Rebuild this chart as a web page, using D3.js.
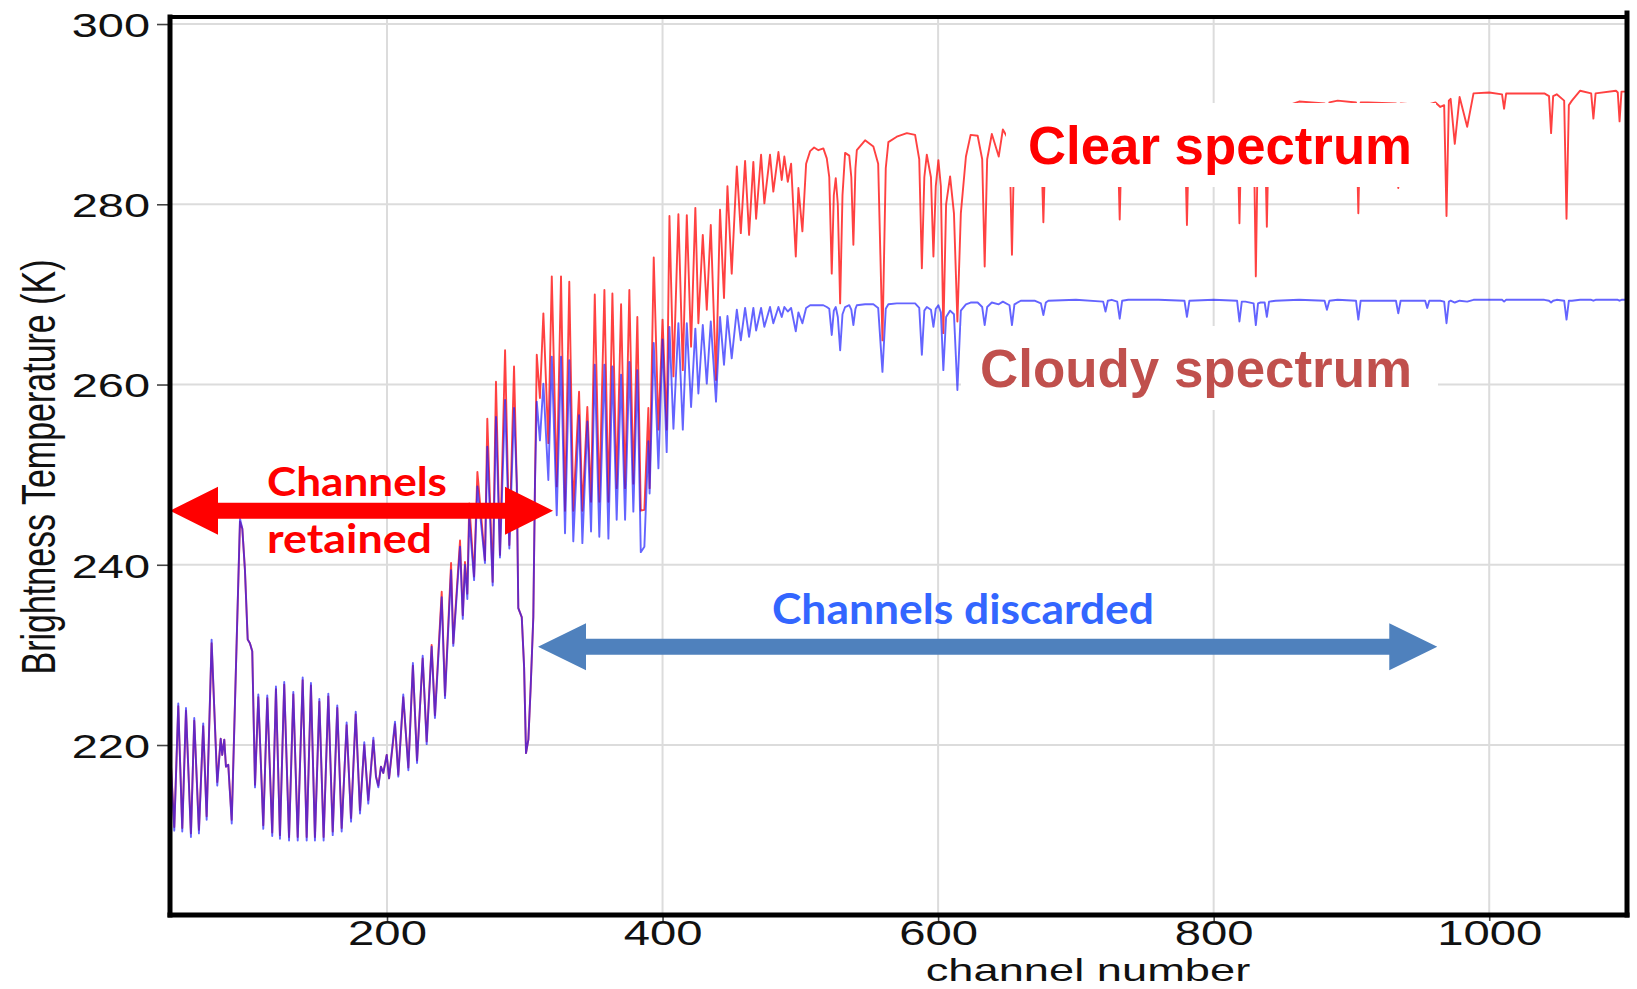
<!DOCTYPE html>
<html>
<head>
<meta charset="utf-8">
<script src="https://cdn.jsdelivr.net/npm/d3@7"></script>
<style>
  html, body { margin: 0; padding: 0; background: #ffffff; }
  svg { display: block; }
</style>
</head>
<body>
<svg id="chart" width="1637" height="989"></svg>
<script>
// Brightness temperature spectra: [channel number, Tb (K)]
const clearSpectrum = [
  [42.5,219.8],[45.6,210.9],[48.5,224.3],[51.4,210.8],[54.1,223.8],[57.7,210.2],[60.1,222.7],[63.5,210.6],[66.6,222.1],[69.1,212.1],
  [72.7,231.3],[76.8,215.9],[79.3,220.7],[80.4,218.9],[81.9,220.6],[83.1,217.6],[84.8,217.8],[85.3,216.5],[87.3,211.7],[93.3,244.8],
  [95.0,244.0],[96.9,239.4],[98.9,231.7],[100.5,231.3],[102.2,230.4],[104.2,215.6],[106.6,225.3],[110.2,211.1],[113.1,225.2],[116.7,210.3],
  [119.4,226.2],[122.3,210.0],[125.4,226.7],[128.9,209.8],[132.0,225.6],[135.2,209.8],[138.8,227.2],[141.7,209.8],[144.8,226.6],[147.7,209.8],
  [150.9,224.8],[154.0,209.8],[157.4,225.4],[160.6,210.4],[163.9,224.1],[167.1,210.8],[170.7,222.2],[173.9,211.9],[177.3,223.4],[180.4,212.8],
  [183.5,220.0],[186.4,213.9],[190.1,220.5],[192.0,216.5],[193.7,215.5],[195.6,217.6],[197.3,216.9],[199.8,218.9],[201.5,216.3],[205.8,222.3],
  [208.2,216.7],[211.8,225.3],[215.5,217.5],[218.8,228.8],[221.8,218.3],[225.9,229.6],[228.8,220.4],[232.4,231.1],[234.8,223.3],[239.7,237.0],
  [242.1,225.5],[246.5,240.2],[248.1,231.3],[253.0,242.7],[255.0,234.4],[256.6,240.3],[258.3,236.8],[259.7,246.8],[263.2,238.7],[265.6,250.3],
  [271.1,240.5],[272.8,256.2],[276.7,238.1],[279.1,260.3],[282.0,241.1],[285.7,263.8],[288.8,242.2],[292.2,262.0],[294.2,249.0],[295.3,235.2],
  [297.8,234.2],[299.5,228.7],[300.9,219.1],[302.6,220.6],[304.3,226.5],[306.2,234.2],[307.4,249.0],[308.7,263.3],[311.0,258.5],[313.5,267.9],
  [317.1,253.5],[319.6,272.0],[323.2,248.7],[326.3,272.0],[329.2,246.0],[332.3,271.4],[335.2,246.0],[339.4,259.2],[341.8,246.0],[345.4,257.5],
  [348.1,247.0],[350.8,270.0],[354.1,247.0],[357.8,270.5],[360.7,247.0],[363.6,270.1],[366.7,248.5],[369.9,268.9],[372.8,248.5],[375.9,270.5],
  [378.8,249.0],[381.7,267.5],[384.2,246.0],[386.8,246.1],[389.7,257.4],[390.6,248.5],[393.6,274.1],[397.0,255.0],[400.0,267.2],[403.0,255.0],
  [405.0,278.7],[407.9,260.9],[411.5,278.9],[414.7,261.6],[417.6,278.8],[420.7,264.2],[423.8,279.6],[426.0,266.8],[429.2,276.6],[432.1,268.3],
  [435.0,277.7],[438.8,260.5],[441.7,279.4],[444.6,269.6],[447.1,282.0],[450.2,272.3],[453.9,284.2],[456.8,276.8],[459.9,284.8],[462.8,276.6],
  [465.9,284.7],[467.9,278.4],[471.5,285.5],[473.9,280.1],[478.0,285.5],[480.4,281.4],[484.1,285.8],[486.5,282.7],[488.4,285.3],[490.9,282.5],
  [493.3,284.5],[496.7,274.2],[498.6,281.8],[501.5,277.0],[504.2,284.5],[507.1,285.9],[510.0,286.3],[513.1,286.0],[516.7,286.2],[519.2,285.1],
  [521.0,283.0],[522.8,272.3],[524.3,281.0],[525.7,282.9],[527.2,280.0],[528.9,269.0],[530.6,281.0],[532.5,285.7],[535.5,285.4],[537.0,283.0],
  [538.5,275.5],[540.0,284.0],[541.0,286.0],[547.0,287.1],[553.0,286.4],[556.5,284.5],[559.6,264.9],[562.0,284.0],[563.9,286.9],[570.0,287.5],
  [577.3,287.9],[583.3,287.7],[586.3,285.0],[588.2,272.9],[590.0,283.0],[591.8,285.5],[594.8,283.0],[596.6,274.2],[598.3,282.0],[600.2,284.9],
  [602.0,282.0],[603.8,265.7],[605.8,280.0],[608.7,283.1],[611.5,279.0],[614.0,267.0],[616.5,279.0],[620.2,285.3],[623.6,287.7],[628.7,287.6],
  [632.0,285.0],[633.8,273.1],[635.6,285.0],[639.0,287.8],[644.0,285.3],[647.0,288.3],[651.8,287.0],[653.6,274.4],[655.4,287.5],[660.0,289.0],
  [670.0,289.2],[674.6,288.0],[676.4,278.0],[678.2,288.2],[680.0,289.4],[700.0,289.8],[719.8,289.0],[721.5,287.0],[723.2,289.5],[726.0,290.0],
  [730.0,289.5],[731.8,278.3],[733.6,289.6],[738.0,290.2],[760.0,290.4],[778.8,290.0],[780.6,277.7],[782.4,290.0],[800.0,290.6],[817.0,290.2],
  [818.7,277.9],[820.4,290.0],[823.0,290.0],[829.0,289.0],[830.6,272.0],[832.2,288.5],[834.0,289.5],[837.0,289.5],[838.6,277.5],[840.2,289.5],
  [845.0,290.5],[862.0,291.4],[880.5,291.2],[882.2,289.0],[884.0,291.3],[890.0,291.5],[903.3,291.3],[905.0,279.0],[906.7,291.3],[912.0,291.3],
  [932.3,291.2],[934.0,281.8],[935.7,291.2],[953.5,291.0],[955.0,291.0],[956.5,291.1],[961.0,291.3],[964.5,290.8],[967.3,291.0],[969.0,278.7],
  [970.7,291.5],[972.0,291.7],[975.0,286.7],[978.5,291.9],[984.0,288.6],[988.6,292.3],[1000.0,292.4],[1009.3,292.2],[1010.8,290.6],[1012.3,292.3],
  [1040.0,292.3],[1043.4,292.0],[1044.9,287.9],[1046.4,292.0],[1049.0,292.2],[1054.4,291.5],[1056.1,278.4],[1057.8,291.0],[1060.0,291.5],[1066.0,292.6],
  [1074.0,292.3],[1075.6,289.5],[1077.2,292.3],[1092.0,292.6],[1093.3,292.4],[1094.6,289.2],[1096.0,292.5],[1100.0,292.5]
];

const cloudySpectrum = [
  [42.5,219.8],[45.6,210.5],[48.5,224.6],[51.4,210.4],[54.1,224.1],[57.7,209.8],[60.1,223.0],[63.5,210.2],[66.6,222.4],[69.1,211.7],
  [72.7,231.7],[76.8,215.5],[79.3,220.7],[80.4,218.9],[81.9,220.6],[83.1,217.6],[84.8,217.8],[85.3,216.5],[87.3,211.3],[93.3,245.1],
  [95.0,244.0],[96.9,239.4],[98.9,231.7],[100.5,231.3],[102.2,230.4],[104.2,215.3],[106.6,225.6],[110.2,210.7],[113.1,225.5],[116.7,209.9],
  [119.4,226.5],[122.3,209.6],[125.4,227.0],[128.9,209.4],[132.0,225.9],[135.2,209.4],[138.8,227.5],[141.7,209.4],[144.8,226.9],[147.7,209.4],
  [150.9,225.1],[154.0,209.4],[157.4,225.7],[160.6,210.0],[163.9,224.4],[167.1,210.4],[170.7,222.5],[173.9,211.5],[177.3,223.7],[180.4,212.4],
  [183.5,220.3],[186.4,213.5],[190.1,220.8],[192.0,216.5],[193.7,215.3],[195.6,217.6],[197.3,216.9],[199.8,218.9],[201.5,216.3],[205.8,222.6],
  [208.2,216.5],[211.8,225.6],[215.5,217.2],[218.8,229.1],[221.8,218.0],[225.9,229.9],[228.8,220.1],[232.4,230.9],[234.8,223.0],[239.7,236.4],
  [242.1,225.2],[246.5,239.4],[248.1,231.0],[253.0,242.0],[255.0,234.0],[256.6,240.0],[258.3,236.2],[259.7,245.3],[263.2,238.3],[265.6,248.7],
  [271.1,240.2],[272.8,253.1],[276.7,237.7],[279.1,256.4],[282.0,240.8],[285.7,258.3],[288.8,241.8],[292.2,257.4],[294.2,249.0],[295.3,235.2],
  [297.8,234.2],[299.5,228.7],[300.9,219.1],[302.6,220.6],[304.3,226.5],[306.2,234.2],[307.4,249.0],[308.7,258.1],[311.0,253.8],[313.5,260.1],
  [317.1,249.4],[319.6,263.1],[323.2,245.5],[326.3,263.1],[329.2,243.5],[332.3,262.7],[335.2,242.6],[339.4,256.6],[341.8,242.4],[345.4,255.9],
  [348.1,243.7],[350.8,262.2],[354.1,243.1],[357.8,262.2],[360.7,242.9],[363.6,262.0],[366.7,245.0],[369.9,261.1],[372.8,245.0],[375.9,262.5],
  [378.8,245.9],[381.7,261.6],[384.2,241.4],[386.8,242.0],[389.7,253.7],[390.6,247.9],[393.6,264.6],[397.0,250.7],[400.0,265.0],[403.0,252.5],
  [405.0,266.4],[407.9,255.1],[411.5,266.8],[414.7,255.0],[417.6,266.8],[420.7,257.5],[423.8,266.2],[426.0,259.0],[429.2,266.6],[432.1,260.1],
  [435.0,267.0],[438.8,258.1],[441.7,267.5],[444.6,262.2],[447.1,267.6],[450.2,262.9],[453.9,268.3],[456.8,264.9],[459.9,268.5],[462.8,265.3],
  [465.9,268.5],[467.9,266.0],[471.5,268.5],[473.9,266.4],[478.0,268.6],[480.4,266.8],[484.1,268.6],[486.5,267.5],[488.4,268.6],[490.9,268.1],
  [493.3,268.5],[496.7,265.9],[498.6,268.0],[501.5,266.8],[504.2,268.5],[507.1,268.8],[510.0,268.8],[513.1,268.8],[516.7,268.8],[519.2,268.6],
  [521.0,268.4],[522.8,265.5],[524.3,268.2],[525.7,268.6],[527.2,267.5],[528.9,263.8],[530.6,267.8],[532.5,268.6],[535.5,268.8],[537.0,268.3],
  [538.5,266.6],[540.0,268.4],[541.0,268.8],[547.0,268.9],[553.0,268.9],[556.5,268.5],[559.6,261.4],[562.0,268.4],[563.9,268.9],[570.0,269.0],
  [577.3,269.0],[583.3,269.0],[586.3,268.5],[588.2,263.3],[590.0,268.2],[591.8,268.6],[594.8,268.3],[596.6,266.4],[598.3,268.4],[600.2,268.8],
  [602.0,268.0],[603.8,261.6],[605.8,267.5],[608.7,268.2],[611.5,267.8],[614.0,259.4],[616.5,268.2],[620.2,268.9],[623.6,269.1],[628.7,269.1],
  [632.0,268.6],[633.8,266.6],[635.6,268.6],[639.0,269.1],[644.0,268.9],[647.0,269.2],[651.8,268.8],[653.6,266.6],[655.4,268.9],[660.0,269.3],
  [670.0,269.3],[674.6,269.0],[676.4,267.7],[678.2,269.1],[680.0,269.3],[700.0,269.4],[719.8,269.2],[721.5,268.1],[723.2,269.3],[726.0,269.4],
  [730.0,269.2],[731.8,267.3],[733.6,269.3],[738.0,269.4],[760.0,269.4],[778.8,269.3],[780.6,267.5],[782.4,269.3],[800.0,269.4],[817.0,269.3],
  [818.7,267.0],[820.4,269.2],[823.0,269.2],[829.0,269.0],[830.6,266.6],[832.2,269.0],[834.0,269.1],[837.0,269.1],[838.6,267.5],[840.2,269.2],
  [845.0,269.3],[862.0,269.4],[880.5,269.3],[882.2,268.3],[884.0,269.3],[890.0,269.4],[903.3,269.3],[905.0,267.2],[906.7,269.3],[912.0,269.3],
  [932.3,269.3],[934.0,267.9],[935.7,269.3],[953.5,269.3],[955.0,268.5],[956.5,269.3],[961.0,269.3],[964.5,269.3],[967.3,269.2],[969.0,266.8],
  [970.7,269.2],[972.0,269.3],[975.0,269.1],[978.5,269.3],[984.0,269.2],[988.6,269.4],[1000.0,269.4],[1009.3,269.4],[1010.8,269.2],[1012.3,269.4],
  [1040.0,269.4],[1043.4,269.3],[1044.9,269.1],[1046.4,269.3],[1049.0,269.4],[1054.4,269.3],[1056.1,267.2],[1057.8,269.3],[1060.0,269.3],[1066.0,269.4],
  [1074.0,269.4],[1075.6,269.3],[1077.2,269.4],[1092.0,269.4],[1093.3,269.4],[1094.6,269.3],[1096.0,269.4],[1100.0,269.4]
];

const xTickValues = [200, 400, 600, 800, 1000];
const yTickValues = [220, 240, 260, 280, 300];
const xDomain = [42.5, 1100];
const yDomain = [201.14, 300.78];

// channel ranges marked by the annotation arrows
const retainedRange = [42.5, 320.5];
const discardedRange = [309.6, 962.3];

// ---------------------------------------------------------------
const plot = { left: 170, right: 1627, top: 17, bottom: 915 };

const svg = d3.select("#chart");

const x = d3.scaleLinear().domain(xDomain).range([plot.left, plot.right]);
const y = d3.scaleLinear().domain(yDomain).range([plot.bottom, plot.top]);

// grid
const grid = svg.append("g").attr("class", "grid");
grid.selectAll("line.vx").data(xTickValues).join("line")
  .attr("class", "vx")
  .attr("x1", d => x(d)).attr("x2", d => x(d))
  .attr("y1", plot.top).attr("y2", plot.bottom)
  .attr("stroke", "#dcdcdc").attr("stroke-width", 2);
grid.selectAll("line.hy").data(yTickValues).join("line")
  .attr("class", "hy")
  .attr("x1", plot.left).attr("x2", plot.right)
  .attr("y1", d => y(d)).attr("y2", d => y(d))
  .attr("stroke", "#dcdcdc").attr("stroke-width", 2);

// spectra
svg.append("clipPath").attr("id", "plotClip")
  .append("rect")
  .attr("x", plot.left).attr("y", plot.top)
  .attr("width", plot.right - plot.left).attr("height", plot.bottom - plot.top);

const line = d3.line().x(d => x(d[0])).y(d => y(d[1]));

const spectra = svg.append("g").attr("clip-path", "url(#plotClip)");
spectra.append("path")
  .datum(clearSpectrum)
  .attr("d", line)
  .attr("fill", "none")
  .attr("stroke", "#ff2020")
  .attr("stroke-opacity", 0.85)
  .attr("stroke-width", 1.9)
  .attr("stroke-linejoin", "round");
spectra.append("path")
  .datum(cloudySpectrum)
  .attr("d", line)
  .attr("fill", "none")
  .attr("stroke", "#1a1aff")
  .attr("stroke-opacity", 0.68)
  .attr("stroke-width", 1.9)
  .attr("stroke-linejoin", "round");

// spectrum labels on white panels
const labels = svg.append("g");
labels.append("rect")
  .attr("x", 1006).attr("y", 103).attr("width", 430).attr("height", 84)
  .attr("fill", "#ffffff");
labels.append("text")
  .attr("x", 1028).attr("y", 164)
  .attr("font-family", "'Liberation Sans', Arial, sans-serif")
  .attr("font-weight", 700).attr("font-size", 53)
  .attr("fill", "#ff0000")
  .attr("textLength", 384).attr("lengthAdjust", "spacingAndGlyphs")
  .text("Clear spectrum");

labels.append("rect")
  .attr("x", 961).attr("y", 326).attr("width", 477).attr("height", 84)
  .attr("fill", "#ffffff");
labels.append("text")
  .attr("x", 980).attr("y", 387)
  .attr("font-family", "'Liberation Sans', Arial, sans-serif")
  .attr("font-weight", 700).attr("font-size", 53)
  .attr("fill", "#c0504d")
  .attr("textLength", 432).attr("lengthAdjust", "spacingAndGlyphs")
  .text("Cloudy spectrum");

// double-headed arrows
function doubleArrow(x1, x2, yc, head, halfHead, halfShaft) {
  return [
    [x1, yc], [x1 + head, yc - halfHead], [x1 + head, yc - halfShaft],
    [x2 - head, yc - halfShaft], [x2 - head, yc - halfHead], [x2, yc],
    [x2 - head, yc + halfHead], [x2 - head, yc + halfShaft],
    [x1 + head, yc + halfShaft], [x1 + head, yc + halfHead]
  ].map((p, i) => (i ? "L" : "M") + p[0] + "," + p[1]).join("") + "Z";
}

const notes = svg.append("g");
notes.append("path")
  .attr("d", doubleArrow(x(retainedRange[0]), x(retainedRange[1]), y(246.0), 48, 24, 8))
  .attr("fill", "#ff0000");
notes.append("path")
  .attr("d", doubleArrow(x(discardedRange[0]), x(discardedRange[1]), y(230.9), 48, 23.5, 8))
  .attr("fill", "#4f81bd");

const noteFont = "Lato, 'Open Sans', sans-serif";
notes.append("text")
  .attr("x", 267).attr("y", 496)
  .attr("font-family", noteFont).attr("font-weight", 700).attr("font-size", 41)
  .attr("fill", "#ff0000")
  .attr("textLength", 180).attr("lengthAdjust", "spacingAndGlyphs")
  .text("Channels");
notes.append("text")
  .attr("x", 267).attr("y", 553)
  .attr("font-family", noteFont).attr("font-weight", 700).attr("font-size", 41)
  .attr("fill", "#ff0000")
  .attr("textLength", 165).attr("lengthAdjust", "spacingAndGlyphs")
  .text("retained");
notes.append("text")
  .attr("x", 772).attr("y", 624)
  .attr("font-family", noteFont).attr("font-weight", 700).attr("font-size", 42)
  .attr("fill", "#3366ff")
  .attr("textLength", 382).attr("lengthAdjust", "spacingAndGlyphs")
  .text("Channels discarded");

// axes
const axisFont = "'Liberation Sans', Arial, Helvetica, sans-serif";

const yAxisG = svg.append("g")
  .attr("transform", `translate(${plot.left},0)`)
  .call(d3.axisLeft(y).tickValues(yTickValues).tickSize(13).tickPadding(7).tickFormat(d3.format("d")));
yAxisG.select(".domain").remove();
yAxisG.selectAll(".tick line").attr("stroke", "#444").attr("stroke-width", 1.6);
yAxisG.selectAll(".tick text")
  .attr("font-family", axisFont).attr("font-size", 34).attr("fill", "#111")
  .attr("x", -20 / 1.38).attr("dy", "0.36em")
  .attr("transform", "scale(1.38,1)");

const xAxisG = svg.append("g")
  .attr("transform", `translate(0,${plot.bottom})`)
  .call(d3.axisBottom(x).tickValues(xTickValues).tickSize(6).tickPadding(4).tickFormat(d3.format("d")));
xAxisG.select(".domain").remove();
xAxisG.selectAll(".tick line").attr("stroke", "#444").attr("stroke-width", 1.6);
xAxisG.selectAll(".tick text")
  .attr("font-family", axisFont).attr("font-size", 35).attr("fill", "#111")
  .attr("y", 30).attr("dy", 0)
  .attr("transform", "scale(1.35,1)");

// frame
const frame = svg.append("g").attr("stroke", "#000").attr("stroke-linecap", "square");
frame.append("line").attr("x1", plot.left).attr("x2", plot.right).attr("y1", plot.top).attr("y2", plot.top).attr("stroke-width", 4);
frame.append("line").attr("x1", plot.right).attr("x2", plot.right).attr("y1", plot.top - 4).attr("y2", plot.bottom).attr("stroke-width", 5);
frame.append("line").attr("x1", plot.left).attr("x2", plot.right).attr("y1", plot.bottom).attr("y2", plot.bottom).attr("stroke-width", 5);
frame.append("line").attr("x1", plot.left).attr("x2", plot.left).attr("y1", plot.top).attr("y2", plot.bottom).attr("stroke-width", 5);

// axis titles
svg.append("text")
  .attr("transform", "translate(55,467) scale(1.4,1) rotate(-90)")
  .attr("text-anchor", "middle")
  .attr("font-family", axisFont).attr("font-size", 34).attr("fill", "#111")
  .text("Brightness Temperature (K)");

svg.append("text")
  .attr("transform", "translate(1088,981) scale(1.46,1.03)")
  .attr("text-anchor", "middle")
  .attr("font-family", axisFont).attr("font-size", 31).attr("fill", "#111")
  .text("channel number");
</script>
</body>
</html>
